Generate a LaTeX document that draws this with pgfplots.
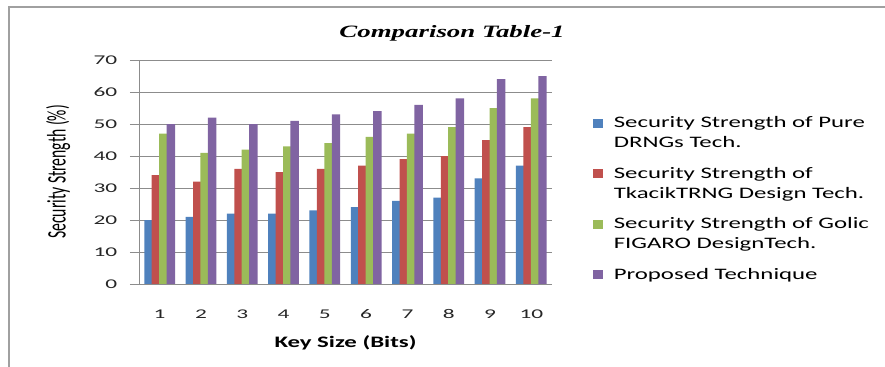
\documentclass[border=0pt]{standalone}
\usepackage{fontspec}
\usepackage{graphicx}
\usepackage{pgfplots}
\pgfplotsset{compat=1.18}
\setmainfont{Carlito}
\newfontfamily\wideCal[FakeStretch=1.55]{Carlito}
\newfontfamily\tickCal[FakeStretch=1.75]{Carlito}
\newfontfamily\plainCal{Carlito}
\newfontfamily\wideTimes[FakeStretch=1.55]{Liberation Serif}
\definecolor{sBlue}{HTML}{4F81BD}
\definecolor{sRed}{HTML}{C0504D}
\definecolor{sGreen}{HTML}{9BBB59}
\definecolor{sPurple}{HTML}{8064A2}
\definecolor{frameGray}{HTML}{A0A0A0}
\definecolor{gridGray}{HTML}{8C8C8C}
\pgfplotsset{
  twoline legend/.style={legend image code/.code={\fill[##1] (0pt,4.1pt) rectangle (7.5pt,10.9pt);}},
  oneline legend/.style={legend image code/.code={\fill[##1] (0pt,-3.4pt) rectangle (7.5pt,3.4pt);}},
}
\begin{document}
\begin{tikzpicture}
\useasboundingbox (0,0) rectangle (663.75pt,275.25pt);
% outer chart frame (top and left edges)
\draw[frameGray,line width=1.1pt] (6.75pt,-2pt) -- (6.75pt,270pt) -- (668pt,270pt);
\begin{axis}[
  at={(104.25pt,62.25pt)}, anchor=south west,
  scale only axis, width=309.75pt, height=168pt,
  % bars are spaced 0.18 apart and drawn slightly wider so neighbours overlap
  ybar, bar width=0.205,
  xmin=0.5, xmax=10.5, ymin=0, ymax=70,
  xtick={1,...,10}, ytick={0,10,...,70},
  axis x line*=bottom, axis y line*=left,
  axis line style={gridGray,-,line width=0.6pt},
  ymajorgrids, major grid style={gridGray,line width=0.6pt},
  xtick style={draw=none},
  ytick style={gridGray,line width=0.6pt},
  tick align=outside, major tick length=6.75pt,
  /pgf/number format/assume math mode=true,
  tick label style={font=\tickCal\fontsize{10}{12}\selectfont, text=black!85},
  xticklabel style={yshift=-9pt},
  yticklabel style={xshift=-6pt},
  title={\wideTimes\bfseries\itshape\fontsize{13}{15}\selectfont Comparison Table-1},
  title style={at={(0.758,1.085)}, anchor=center},
  xlabel={\wideCal\bfseries\fontsize{12}{14}\selectfont Key Size (Bits)},
  xlabel style={at={(0.5,-0.263)}, anchor=center},
  ylabel={\scalebox{1}[1.7]{\plainCal\fontsize{11.8}{13}\selectfont Security Strength (\%)}},
  ylabel style={at={(-0.196,0.5)}, anchor=center, rotate=0},
  legend style={at={(1.099,0.76)}, anchor=north west, draw=none,
    font=\wideCal\fontsize{12}{15}\selectfont, row sep=9pt, column sep=6pt,
    cells={anchor=west, align=left}, inner sep=0pt},
  legend cell align=left,
]
\addplot[fill=sBlue, draw=none, bar shift=-0.27, twoline legend] coordinates
  {(1,20) (2,21) (3,22) (4,22) (5,23) (6,24) (7,26) (8,27) (9,33) (10,37)};
\addplot[fill=sRed, draw=none, bar shift=-0.09, twoline legend] coordinates
  {(1,34) (2,32) (3,36) (4,35) (5,36) (6,37) (7,39) (8,40) (9,45) (10,49)};
\addplot[fill=sGreen, draw=none, bar shift=0.09, twoline legend] coordinates
  {(1,47) (2,41) (3,42) (4,43) (5,44) (6,46) (7,47) (8,49) (9,55) (10,58)};
\addplot[fill=sPurple, draw=none, bar shift=0.27, oneline legend] coordinates
  {(1,50) (2,52) (3,50) (4,51) (5,53) (6,54) (7,56) (8,58) (9,64) (10,65)};
\addlegendentry{Security Strength of Pure\\DRNGs Tech.}
\addlegendentry{Security Strength of\\TkacikTRNG Design Tech.}
\addlegendentry{Security Strength of Golic\\FIGARO DesignTech.}
\addlegendentry{Proposed Technique}
\end{axis}
\end{tikzpicture}
\end{document}
